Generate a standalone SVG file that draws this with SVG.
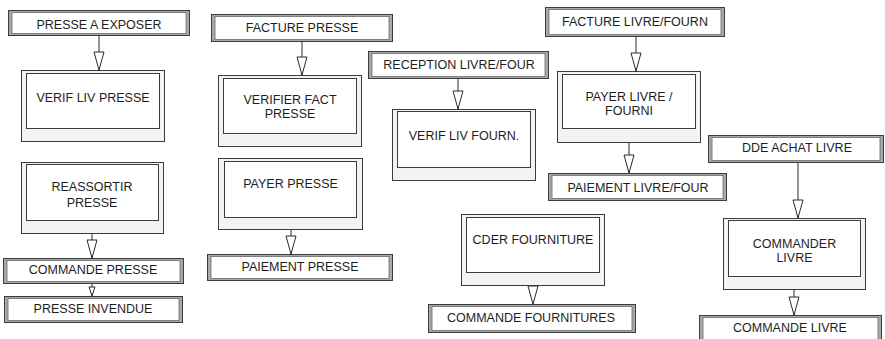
<svg xmlns="http://www.w3.org/2000/svg" width="885" height="339" viewBox="0 0 885 339">
<style>
.ev-o{fill:#a8a8a8;stroke:#3c3c3c;stroke-width:1}
.ev-i{fill:#ffffff;stroke:#6a6a6a;stroke-width:0.8}
.pr-o{fill:#f3f3f3;stroke:#3c3c3c;stroke-width:1}
.pr-i{fill:#ffffff;stroke:#3c3c3c;stroke-width:1}
text{font-family:"Liberation Sans",Arial,sans-serif;font-size:12.5px;fill:#1e1e1e;text-anchor:middle}
.cn{stroke:#2a2a2a;stroke-width:1;fill:none}
</style>
<defs>
<marker id="arr" markerUnits="userSpaceOnUse" markerWidth="18" markerHeight="10" refX="18" refY="5" orient="auto" overflow="visible">
<path d="M0,0 L18,5 L0,10 Z" fill="#ffffff" stroke="#2a2a2a" stroke-width="1"/>
</marker>
<marker id="arrS" markerUnits="userSpaceOnUse" markerWidth="9" markerHeight="6" refX="9" refY="3" orient="auto" overflow="visible">
<path d="M0,0 L9,3 L0,6 Z" fill="#ffffff" stroke="#2a2a2a" stroke-width="1"/>
</marker>
<clipPath id="clipCder"><rect x="466" y="217" width="132" height="55"/></clipPath>
</defs>

<g id="connectors">
<line class="cn" x1="99" y1="35" x2="99" y2="70" marker-end="url(#arr)"/>
<line class="cn" x1="92" y1="233" x2="92" y2="258" marker-end="url(#arr)"/>
<line class="cn" x1="92" y1="284" x2="92" y2="296" marker-end="url(#arrS)"/>
<line class="cn" x1="302" y1="42" x2="302" y2="75" marker-end="url(#arr)"/>
<line class="cn" x1="291" y1="230" x2="291" y2="254" marker-end="url(#arr)"/>
<line class="cn" x1="458" y1="79" x2="458" y2="109" marker-end="url(#arr)"/>
<line class="cn" x1="533" y1="286" x2="533" y2="304" marker-end="url(#arr)"/>
<line class="cn" x1="636" y1="37" x2="636" y2="71" marker-end="url(#arr)"/>
<line class="cn" x1="629" y1="143" x2="629" y2="173" marker-end="url(#arr)"/>
<line class="cn" x1="798" y1="162" x2="798" y2="218" marker-end="url(#arr)"/>
<line class="cn" x1="794" y1="289" x2="794" y2="315" marker-end="url(#arr)"/>
</g>

<g id="presse-a-exposer">
<rect class="ev-o" x="8.5" y="10.5" width="181" height="25"/>
<rect class="ev-i" x="12" y="12.5" width="174" height="21"/>
<text x="99" y="28.5">PRESSE A EXPOSER</text>
</g>

<g id="verif-liv-presse">
<rect class="pr-o" x="21.5" y="70.5" width="143" height="71"/>
<rect class="pr-i" x="26.5" y="73.5" width="133" height="55"/>
<text x="93" y="101.5">VERIF LIV PRESSE</text>
</g>

<g id="reassortir-presse">
<rect class="pr-o" x="21.5" y="162.5" width="142" height="71"/>
<rect class="pr-i" x="26.5" y="164.5" width="132" height="56"/>
<text x="92" y="190.5">REASSORTIR</text>
<text x="92" y="206.5">PRESSE</text>
</g>

<g id="commande-presse">
<rect class="ev-o" x="3.5" y="258.5" width="180" height="25"/>
<rect class="ev-i" x="7" y="260.5" width="173" height="21"/>
<text x="93" y="273.5">COMMANDE PRESSE</text>
</g>

<g id="presse-invendue">
<rect class="ev-o" x="4.5" y="296.5" width="178" height="26"/>
<rect class="ev-i" x="8" y="298.5" width="171" height="22"/>
<text x="93" y="312.5">PRESSE INVENDUE</text>
</g>

<g id="facture-presse">
<rect class="ev-o" x="211.5" y="14.5" width="181" height="27"/>
<rect class="ev-i" x="215" y="16.5" width="174" height="23"/>
<text x="302" y="31.5">FACTURE PRESSE</text>
</g>

<g id="verifier-fact-presse">
<rect class="pr-o" x="218.5" y="75.5" width="143" height="71"/>
<rect class="pr-i" x="223.5" y="78.5" width="133" height="55"/>
<text x="290" y="103.5">VERIFIER FACT</text>
<text x="290" y="117.5">PRESSE</text>
</g>

<g id="payer-presse">
<rect class="pr-o" x="218.5" y="158.5" width="144" height="71"/>
<rect class="pr-i" x="224.5" y="161.5" width="132" height="56"/>
<text x="290.5" y="187.5">PAYER PRESSE</text>
</g>

<g id="paiement-presse">
<rect class="ev-o" x="207.5" y="254.5" width="185" height="26"/>
<rect class="ev-i" x="211" y="256.5" width="178" height="22"/>
<text x="300" y="271">PAIEMENT PRESSE</text>
</g>

<g id="reception-livre-four">
<rect class="ev-o" x="368.5" y="51.5" width="180" height="27"/>
<rect class="ev-i" x="372" y="53.5" width="173" height="23"/>
<text x="459" y="68.5">RECEPTION LIVRE/FOUR</text>
</g>

<g id="verif-liv-fourn">
<rect class="pr-o" x="392.5" y="109.5" width="143" height="71"/>
<rect class="pr-i" x="397.5" y="111.5" width="133" height="56"/>
<text x="464" y="139.5">VERIF LIV FOURN.</text>
</g>

<g id="cder-fourniture">
<rect class="pr-o" x="461.5" y="214.5" width="143" height="71"/>
<rect class="pr-i" x="466.5" y="217.5" width="133" height="55"/>
<text x="533" y="243.5" clip-path="url(#clipCder)">CDER FOURNITURE</text>
</g>

<g id="commande-fournitures">
<rect class="ev-o" x="428.5" y="304.5" width="207" height="28"/>
<rect class="ev-i" x="432" y="306.5" width="200" height="24"/>
<text x="531" y="322">COMMANDE FOURNITURES</text>
</g>

<g id="facture-livre-fourn">
<rect class="ev-o" x="545.5" y="7.5" width="179" height="29"/>
<rect class="ev-i" x="549" y="9.5" width="172" height="25"/>
<text x="635" y="25.5">FACTURE LIVRE/FOURN</text>
</g>

<g id="payer-livre-fourni">
<rect class="pr-o" x="557.5" y="71.5" width="143" height="71"/>
<rect class="pr-i" x="562.5" y="74.5" width="133" height="54"/>
<text x="629" y="100.5">PAYER LIVRE /</text>
<text x="629" y="114.5">FOURNI</text>
</g>

<g id="paiement-livre-four">
<rect class="ev-o" x="548.5" y="173.5" width="178" height="27"/>
<rect class="ev-i" x="552" y="175.5" width="171" height="23"/>
<text x="638" y="191.5">PAIEMENT LIVRE/FOUR</text>
</g>

<g id="dde-achat-livre">
<rect class="ev-o" x="708.5" y="135.5" width="175" height="27"/>
<rect class="ev-i" x="712" y="137.5" width="168" height="23"/>
<text x="797" y="152">DDE ACHAT LIVRE</text>
</g>

<g id="commander-livre">
<rect class="pr-o" x="723.5" y="218.5" width="142" height="71"/>
<rect class="pr-i" x="728.5" y="220.5" width="132" height="56"/>
<text x="794.5" y="247.5">COMMANDER</text>
<text x="794.5" y="261.5">LIVRE</text>
</g>

<g id="commande-livre">
<rect class="ev-o" x="699.5" y="315.5" width="182" height="30"/>
<rect class="ev-i" x="703" y="317.5" width="175" height="26"/>
<text x="790" y="331.5">COMMANDE LIVRE</text>
</g>
</svg>
